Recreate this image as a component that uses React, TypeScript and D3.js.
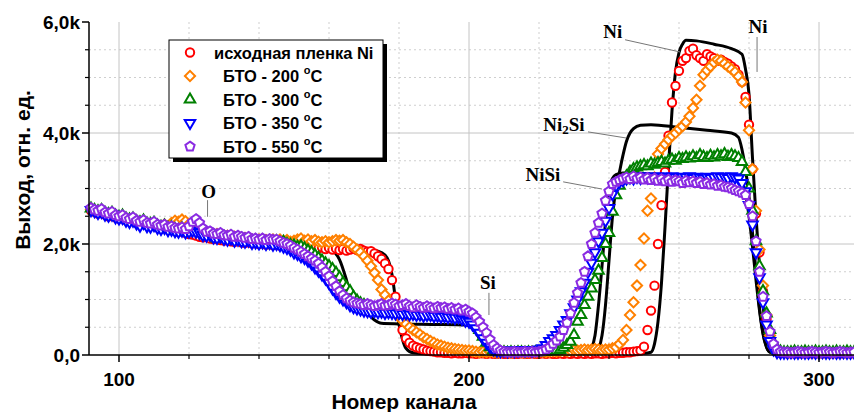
import React from "react";
import * as d3 from "d3";

// one point per channel, starting at this channel
const firstChannel = 92;

// measured yield, thousands of counts
const initialFilm = [
  2.60, 2.58, 2.55, 2.58, 2.53, 2.50, 2.52, 2.48, 2.46, 2.48,
  2.43, 2.41, 2.43, 2.38, 2.36, 2.39, 2.34, 2.33, 2.35, 2.30,
  2.28, 2.30, 2.26, 2.27, 2.24, 2.22, 2.24, 2.20, 2.18, 2.17,
  2.15, 2.13, 2.12, 2.14, 2.10, 2.09, 2.11, 2.07, 2.06, 2.08,
  2.05, 2.04, 2.06, 2.03, 2.02, 2.04, 2.01, 2.02, 2.00, 2.02,
  1.99, 2.00, 1.98, 2.00, 1.97, 1.98, 1.96, 1.98, 1.95, 1.96,
  1.97, 1.94, 1.95, 1.93, 1.95, 1.92, 1.94, 1.91, 1.93, 1.90,
  1.92, 1.89, 1.91, 1.88, 1.90, 1.92, 1.89, 1.91, 1.88, 1.86,
  1.87, 1.83, 1.78, 1.73, 1.65, 1.55, 1.35, 1.05, 0.70, 0.45,
  0.30, 0.22, 0.17, 0.14, 0.12, 0.10, 0.08, 0.07, 0.06, 0.05,
  0.05, 0.04, 0.04, 0.03, 0.04, 0.03, 0.03, 0.04, 0.03, 0.03,
  0.02, 0.03, 0.03, 0.02, 0.03, 0.02, 0.02, 0.03, 0.02, 0.02,
  0.03, 0.02, 0.02, 0.03, 0.02, 0.02, 0.03, 0.02, 0.02, 0.03,
  0.02, 0.03, 0.02, 0.02, 0.03, 0.02, 0.03, 0.02, 0.03, 0.02,
  0.03, 0.02, 0.03, 0.02, 0.03, 0.03, 0.02, 0.03, 0.03, 0.04,
  0.03, 0.04, 0.04, 0.05, 0.05, 0.06, 0.07, 0.08, 0.15, 0.45,
  0.80, 1.25, 2.00, 2.70, 3.30, 3.95, 4.55, 4.85, 5.12, 5.30,
  5.35, 5.48, 5.52, 5.40, 5.35, 5.30, 5.42, 5.38, 5.35, 5.30,
  5.32, 5.28, 5.25, 5.20, 5.15, 5.05, 4.92, 4.65, 4.15, 3.35,
  2.55, 1.85, 1.15, 0.65, 0.32, 0.14, 0.06, 0.04, 0.04, 0.03,
  0.03, 0.03, 0.03, 0.03, 0.03, 0.03, 0.03, 0.03, 0.03, 0.03,
  0.03, 0.03, 0.03, 0.03, 0.03, 0.03, 0.03, 0.03, 0.03,
];

const rta200 = [
  2.62, 2.60, 2.57, 2.59, 2.55, 2.52, 2.54, 2.50, 2.47, 2.49,
  2.45, 2.43, 2.45, 2.40, 2.38, 2.42, 2.37, 2.36, 2.38, 2.34,
  2.32, 2.35, 2.31, 2.38, 2.42, 2.40, 2.44, 2.41, 2.36, 2.30,
  2.26, 2.22, 2.19, 2.21, 2.17, 2.16, 2.18, 2.14, 2.13, 2.15,
  2.11, 2.13, 2.11, 2.09, 2.11, 2.07, 2.08, 2.06, 2.08, 2.05,
  2.07, 2.05, 2.08, 2.06, 2.08, 2.05, 2.07, 2.04, 2.06, 2.08,
  2.10, 2.06, 2.08, 2.05, 2.07, 2.04, 2.03, 2.05, 2.03, 2.05,
  2.07, 2.06, 2.07, 2.03, 2.00, 1.95, 1.90, 1.85, 1.78, 1.70,
  1.60, 1.48, 1.35, 1.18, 1.08, 0.98, 0.88, 0.80, 0.70, 0.62,
  0.56, 0.50, 0.45, 0.41, 0.37, 0.32, 0.29, 0.25, 0.22, 0.19,
  0.17, 0.15, 0.13, 0.12, 0.11, 0.10, 0.09, 0.08, 0.08, 0.07,
  0.06, 0.05, 0.06, 0.05, 0.06, 0.05, 0.04, 0.05, 0.06, 0.05,
  0.04, 0.05, 0.06, 0.05, 0.04, 0.05, 0.06, 0.05, 0.05, 0.06,
  0.05, 0.06, 0.07, 0.06, 0.07, 0.08, 0.07, 0.08, 0.09, 0.08,
  0.09, 0.10, 0.09, 0.10, 0.11, 0.10, 0.09, 0.10, 0.10, 0.12,
  0.14, 0.20, 0.27, 0.45, 0.72, 0.95, 1.25, 1.62, 2.10, 2.60,
  2.82, 3.20, 3.62, 3.72, 3.80, 3.88, 3.95, 4.00, 4.07, 4.12,
  4.20, 4.30, 4.45, 4.60, 4.85, 5.05, 5.13, 5.20, 5.27, 5.32,
  5.30, 5.25, 5.20, 5.15, 5.10, 5.02, 4.92, 4.55, 4.05, 3.35,
  2.60, 1.90, 1.25, 0.72, 0.35, 0.15, 0.07, 0.05, 0.04, 0.04,
  0.04, 0.05, 0.04, 0.04, 0.05, 0.04, 0.04, 0.05, 0.04, 0.04,
  0.05, 0.04, 0.04, 0.05, 0.04, 0.04, 0.05, 0.04, 0.04,
];

const rta300 = [
  2.64, 2.61, 2.59, 2.61, 2.56, 2.54, 2.56, 2.51, 2.49, 2.51,
  2.46, 2.44, 2.46, 2.41, 2.39, 2.42, 2.37, 2.36, 2.38, 2.33,
  2.31, 2.33, 2.29, 2.30, 2.27, 2.25, 2.28, 2.24, 2.25, 2.26,
  2.25, 2.22, 2.19, 2.20, 2.16, 2.14, 2.10, 2.12, 2.13, 2.11,
  2.13, 2.09, 2.11, 2.09, 2.07, 2.09, 2.05, 2.06, 2.04, 2.06,
  2.03, 2.05, 2.04, 2.05, 2.02, 2.04, 2.00, 1.98, 1.97, 1.95,
  1.96, 1.92, 1.88, 1.85, 1.80, 1.75, 1.70, 1.65, 1.60, 1.55,
  1.48, 1.40, 1.30, 1.22, 1.15, 1.05, 0.98, 0.93, 0.90, 0.86,
  0.84, 0.82, 0.80, 0.79, 0.78, 0.76, 0.77, 0.75, 0.74, 0.75,
  0.73, 0.74, 0.72, 0.73, 0.71, 0.72, 0.70, 0.71, 0.70, 0.69,
  0.70, 0.68, 0.69, 0.67, 0.68, 0.66, 0.67, 0.65, 0.64, 0.61,
  0.55, 0.45, 0.33, 0.22, 0.14, 0.09, 0.06, 0.05, 0.05, 0.04,
  0.05, 0.04, 0.05, 0.05, 0.04, 0.05, 0.04, 0.05, 0.05, 0.06,
  0.06, 0.07, 0.07, 0.08, 0.09, 0.13, 0.18, 0.24, 0.36, 0.60,
  0.72, 0.90, 1.05, 1.20, 1.35, 1.52, 1.75, 2.00, 2.20, 2.58,
  2.88, 3.05, 3.15, 3.22, 3.30, 3.35, 3.38, 3.40, 3.42, 3.40,
  3.45, 3.43, 3.46, 3.48, 3.45, 3.50, 3.52, 3.50, 3.55, 3.53,
  3.56, 3.54, 3.58, 3.55, 3.60, 3.57, 3.55, 3.59, 3.56, 3.60,
  3.58, 3.62, 3.57, 3.60, 3.58, 3.55, 3.48, 3.30, 3.00, 2.60,
  2.05, 1.60, 1.15, 0.75, 0.45, 0.22, 0.10, 0.06, 0.05, 0.05,
  0.05, 0.06, 0.05, 0.05, 0.06, 0.05, 0.05, 0.06, 0.05, 0.05,
  0.06, 0.05, 0.05, 0.06, 0.05, 0.05, 0.06, 0.05, 0.05,
];

const rta350 = [
  2.61, 2.59, 2.56, 2.58, 2.53, 2.51, 2.53, 2.48, 2.46, 2.47,
  2.42, 2.40, 2.42, 2.37, 2.33, 2.38, 2.32, 2.31, 2.34, 2.29,
  2.27, 2.29, 2.25, 2.26, 2.23, 2.22, 2.24, 2.21, 2.22, 2.24,
  2.22, 2.20, 2.16, 2.15, 2.17, 2.12, 2.11, 2.13, 2.09, 2.08,
  2.10, 2.06, 2.08, 2.05, 2.04, 2.06, 2.02, 2.03, 2.01, 2.03,
  2.00, 2.02, 1.99, 2.00, 1.98, 1.95, 1.93, 1.90, 1.85, 1.82,
  1.78, 1.75, 1.70, 1.65, 1.58, 1.52, 1.45, 1.38, 1.30, 1.20,
  1.12, 1.05, 1.00, 0.95, 0.90, 0.86, 0.84, 0.82, 0.80, 0.79,
  0.78, 0.79, 0.77, 0.78, 0.76, 0.77, 0.76, 0.75, 0.76, 0.74,
  0.75, 0.73, 0.74, 0.72, 0.73, 0.71, 0.72, 0.72, 0.70, 0.71,
  0.69, 0.70, 0.68, 0.69, 0.67, 0.68, 0.65, 0.62, 0.60, 0.55,
  0.48, 0.40, 0.30, 0.22, 0.15, 0.10, 0.08, 0.07, 0.08, 0.07,
  0.08, 0.07, 0.08, 0.09, 0.08, 0.09, 0.08, 0.09, 0.10, 0.12,
  0.18, 0.25, 0.30, 0.36, 0.45, 0.55, 0.63, 0.75, 0.86, 1.00,
  1.15, 1.30, 1.50, 1.66, 1.85, 2.05, 2.20, 2.42, 2.65, 2.90,
  3.05, 3.12, 3.15, 3.18, 3.20, 3.18, 3.21, 3.19, 3.22, 3.20,
  3.21, 3.19, 3.22, 3.20, 3.21, 3.18, 3.22, 3.20, 3.19, 3.21,
  3.20, 3.22, 3.19, 3.21, 3.20, 3.18, 3.21, 3.19, 3.20, 3.22,
  3.20, 3.21, 3.19, 3.22, 3.20, 3.18, 3.10, 2.95, 2.70, 2.35,
  1.85, 1.40, 0.95, 0.55, 0.25, 0.10, 0.05, 0.04, 0.04, 0.04,
  0.05, 0.04, 0.04, 0.05, 0.04, 0.04, 0.05, 0.04, 0.04, 0.05,
  0.04, 0.04, 0.05, 0.04, 0.04, 0.05, 0.04, 0.04, 0.05,
];

const rta550 = [
  2.65, 2.62, 2.60, 2.63, 2.57, 2.55, 2.58, 2.52, 2.50, 2.52,
  2.47, 2.45, 2.48, 2.42, 2.40, 2.43, 2.38, 2.37, 2.40, 2.35,
  2.33, 2.35, 2.31, 2.32, 2.29, 2.28, 2.30, 2.27, 2.32, 2.40,
  2.45, 2.38, 2.28, 2.22, 2.23, 2.19, 2.18, 2.20, 2.16, 2.15,
  2.17, 2.13, 2.15, 2.13, 2.11, 2.13, 2.09, 2.10, 2.08, 2.10,
  2.07, 2.09, 2.08, 2.08, 2.05, 2.02, 2.00, 1.97, 1.93, 1.90,
  1.86, 1.82, 1.78, 1.74, 1.70, 1.65, 1.58, 1.50, 1.42, 1.33,
  1.24, 1.15, 1.08, 1.02, 0.98, 0.95, 0.93, 0.92, 0.90, 0.92,
  0.90, 0.88, 0.90, 0.92, 0.89, 0.90, 0.93, 0.91, 0.88, 0.90,
  0.92, 0.88, 0.86, 0.90, 0.87, 0.85, 0.88, 0.86, 0.84, 0.87,
  0.85, 0.86, 0.83, 0.85, 0.82, 0.84, 0.80, 0.82, 0.78, 0.75,
  0.68, 0.60, 0.50, 0.40, 0.28, 0.18, 0.12, 0.08, 0.06, 0.05,
  0.05, 0.06, 0.05, 0.05, 0.06, 0.05, 0.06, 0.05, 0.06, 0.07,
  0.10, 0.14, 0.20, 0.26, 0.33, 0.45, 0.58, 0.75, 0.94, 1.12,
  1.30, 1.50, 1.78, 2.00, 2.20, 2.38, 2.55, 2.78, 2.95, 3.08,
  3.12, 3.15, 3.18, 3.20, 3.17, 3.22, 3.18, 3.20, 3.16, 3.19,
  3.15, 3.18, 3.14, 3.17, 3.13, 3.16, 3.12, 3.15, 3.13, 3.10,
  3.14, 3.11, 3.13, 3.10, 3.12, 3.08, 3.10, 3.07, 3.08, 3.05,
  3.06, 3.03, 3.02, 3.00, 2.97, 2.95, 2.92, 2.88, 2.72, 2.50,
  2.05, 1.50, 1.05, 0.70, 0.42, 0.20, 0.10, 0.06, 0.05, 0.05,
  0.04, 0.05, 0.06, 0.05, 0.04, 0.05, 0.06, 0.05, 0.04, 0.05,
  0.06, 0.05, 0.04, 0.05, 0.06, 0.05, 0.04, 0.05, 0.05,
];

// simulated spectra (black lines)
const simNiChannels = [145, 160, 170, 174, 176, 177, 178, 179, 180, 181, 182, 184, 188, 200, 240, 250, 252, 253, 254, 255, 256, 257, 258, 259, 260, 261, 262, 265, 270, 275, 278, 279, 280, 281, 282, 283, 284, 285, 286, 287, 289, 310];
const simNi = [2.02, 1.94, 1.90, 1.87, 1.80, 1.70, 1.45, 1.00, 0.55, 0.28, 0.12, 0.04, 0.02, 0.02, 0.02, 0.03, 0.05, 0.20, 0.60, 1.30, 2.30, 3.40, 4.40, 5.10, 5.45, 5.60, 5.67, 5.66, 5.60, 5.52, 5.42, 5.15, 4.70, 3.55, 2.50, 1.60, 0.90, 0.40, 0.15, 0.05, 0.01, 0.00];

const simNi2SiChannels = [145, 155, 158, 161, 163, 165, 166, 167, 169, 171, 173, 175, 180, 190, 199, 201, 203, 205, 207, 209, 236, 237, 238, 239, 240, 241, 242, 243, 244, 245, 246, 247, 249, 252, 260, 268, 275, 277, 278, 279, 280, 281, 282, 283, 284, 285, 286, 288, 310];
const simNi2Si = [2.04, 1.97, 1.95, 1.88, 1.72, 1.35, 1.13, 0.98, 0.87, 0.75, 0.63, 0.57, 0.56, 0.55, 0.54, 0.48, 0.30, 0.14, 0.05, 0.02, 0.02, 0.10, 0.35, 0.90, 1.70, 2.50, 3.00, 3.30, 3.60, 3.85, 4.00, 4.08, 4.14, 4.15, 4.10, 4.05, 4.00, 3.92, 3.70, 3.35, 2.85, 2.20, 1.50, 0.85, 0.40, 0.15, 0.05, 0.02, 0.00];

const simNiSiChannels = [145, 155, 158, 160, 162, 164, 166, 170, 180, 190, 199, 201, 203, 205, 207, 209, 211, 233, 234, 235, 236, 237, 238, 239, 240, 241, 242, 244, 255, 265, 275, 278, 279, 280, 281, 282, 283, 284, 285, 286, 288, 310];
const simNiSi = [2.02, 1.90, 1.75, 1.50, 1.20, 1.00, 0.92, 0.88, 0.87, 0.85, 0.82, 0.75, 0.55, 0.30, 0.12, 0.04, 0.02, 0.02, 0.05, 0.12, 0.35, 0.90, 1.60, 2.40, 3.00, 3.18, 3.25, 3.28, 3.25, 3.22, 3.20, 3.12, 2.90, 2.50, 1.95, 1.35, 0.80, 0.38, 0.14, 0.05, 0.02, 0.00];

const seriesLabels = ["исходная пленка Ni", "БТО - 200 ", "БТО - 300 ", "БТО - 350 ", "БТО - 550 "];
const xMajorTicks = [100, 200, 300];
const xMinorTicks = [120, 140, 160, 180, 220, 240, 260, 280];
const yMajorTicks = [0, 2, 4, 6];
const yMinorTicks = [0.5, 1, 1.5, 2.5, 3, 3.5, 4.5, 5, 5.5];

const symbolPentagon = {
  draw(context: any, size: number) {
    const r = Math.sqrt(size / 2.3776);
    for (let k = 0; k < 5; k++) {
      const a = -Math.PI / 2 + (k * 2 * Math.PI) / 5;
      if (k === 0) context.moveTo(r * Math.cos(a), r * Math.sin(a));
      else context.lineTo(r * Math.cos(a), r * Math.sin(a));
    }
    context.closePath();
  },
};

const series = [
  { label: seriesLabels[0], values: initialFilm, color: "#ff0000", path: d3.symbol(d3.symbolCircle, 55)(), rotate: 0 },
  { label: seriesLabels[1], values: rta200, color: "#ff8000", path: d3.symbol(d3.symbolSquare, 52)(), rotate: 45 },
  { label: seriesLabels[2], values: rta300, color: "#008000", path: d3.symbol(d3.symbolTriangle, 48)(), rotate: 0 },
  { label: seriesLabels[3], values: rta350, color: "#0000ff", path: d3.symbol(d3.symbolTriangle, 48)(), rotate: 180 },
  { label: seriesLabels[4], values: rta550, color: "#8a2be2", path: d3.symbol(symbolPentagon as any, 56)(), rotate: 0 },
];

const sims = [
  { ch: simNiChannels, v: simNi },
  { ch: simNi2SiChannels, v: simNi2Si },
  { ch: simNiSiChannels, v: simNiSi },
];

export default function App() {
  const left = 89, right = 854, top = 22, bottom = 355;
  const x = d3.scaleLinear().domain([100, 300]).range([119, 819]);
  const y = d3.scaleLinear().domain([0, 6]).range([bottom, top]);

  const line = d3
    .line<[number, number]>()
    .x((d) => x(d[0]))
    .y((d) => y(d[1]))
    .curve(d3.curveMonotoneX);

  const tickFont = { fontFamily: "'Liberation Sans', Arial, sans-serif", fontWeight: 700 };
  const noteFont = { fontFamily: "'Liberation Serif', 'Times New Roman', serif", fontWeight: 700, fontSize: 19 };
  const yLabel = (v: number) => (v === 0 ? "0,0" : v.toFixed(1).replace(".", ",") + "k");

  const notes = [
    { text: "O", at: [125.6, 2.95], from: [125.3, 2.79], to: [125.3, 2.49] },
    { text: "Si", at: [205.4, 1.3], from: [205.7, 1.12], to: [205.7, 0.72] },
    { text: "Ni", at: [241.1, 5.82], from: [244.6, 5.68], to: [260.3, 5.46] },
    { text: "Ni", at: [282.6, 5.91], from: [282.3, 5.73], to: [282.3, 5.1] },
    { text: "Ni2Si", at: [227.1, 4.16], from: [234, 4.02], to: [244.9, 3.91] },
    { text: "NiSi", at: [221.1, 3.26], from: [226.9, 3.12], to: [238, 2.99] },
  ];

  return (
    <svg width={854} height={412} style={{ position: "absolute", left: 0, top: 0, background: "#fff" }}>
      {/* grid */}
      {yMinorTicks.map((t) => (
        <line key={"gy" + t} x1={left} x2={right} y1={y(t)} y2={y(t)} stroke="#cfcfcf" strokeDasharray="2,3" />
      ))}
      {xMinorTicks.map((t) => (
        <line key={"gx" + t} x1={x(t)} x2={x(t)} y1={top} y2={bottom} stroke="#cfcfcf" strokeDasharray="2,3" />
      ))}
      {yMajorTicks.filter((t) => t > 0 && t < 6).map((t) => (
        <line key={"Gy" + t} x1={left} x2={right} y1={y(t)} y2={y(t)} stroke="#c4c4c4" />
      ))}
      {xMajorTicks.map((t) => (
        <line key={"Gx" + t} x1={x(t)} x2={x(t)} y1={top} y2={bottom} stroke="#c4c4c4" />
      ))}

      {/* simulations */}
      {sims.map((s, i) => (
        <path key={"sim" + i} d={line(s.ch.map((c, j) => [c, s.v[j]]) as [number, number][]) || ""} fill="none" stroke="#000" strokeWidth={3} />
      ))}

      {/* measured points */}
      {series.map((s, si) => (
        <g key={"s" + si}>
          {s.values.map((v, i) => (
            <path
              key={i}
              d={s.path || ""}
              transform={`translate(${x(firstChannel + i)},${y(v)}) rotate(${s.rotate})`}
              fill="#fff"
              stroke={s.color}
              strokeWidth={2}
            />
          ))}
        </g>
      ))}

      {/* axes */}
      <line x1={left} x2={left} y1={top} y2={bottom} stroke="#000" strokeWidth={1.5} />
      <line x1={left} x2={right} y1={bottom} y2={bottom} stroke="#000" strokeWidth={1.5} />
      {yMajorTicks.map((t) => (
        <g key={"yt" + t}>
          <line x1={left - 7} x2={left} y1={y(t)} y2={y(t)} stroke="#000" strokeWidth={1.5} />
          <text x={left - 9} y={y(t)} textAnchor="end" dominantBaseline="central" fontSize={19} {...tickFont}>
            {yLabel(t)}
          </text>
        </g>
      ))}
      {yMinorTicks.map((t) => (
        <line key={"ymt" + t} x1={left - 4} x2={left} y1={y(t)} y2={y(t)} stroke="#000" strokeWidth={1.2} />
      ))}
      {xMajorTicks.map((t) => (
        <g key={"xt" + t}>
          <line x1={x(t)} x2={x(t)} y1={bottom} y2={bottom + 7} stroke="#000" strokeWidth={1.5} />
          <text x={x(t)} y={bottom + 24} textAnchor="middle" dominantBaseline="central" fontSize={19} {...tickFont}>
            {t}
          </text>
        </g>
      ))}
      {xMinorTicks.map((t) => (
        <line key={"xmt" + t} x1={x(t)} x2={x(t)} y1={bottom} y2={bottom + 4} stroke="#000" strokeWidth={1.2} />
      ))}
      <text x={404} y={401} textAnchor="middle" dominantBaseline="central" fontSize={21} {...tickFont}>
        Номер канала
      </text>
      <text
        transform="translate(22,170) rotate(-90)"
        textAnchor="middle"
        dominantBaseline="central"
        fontSize={21}
        {...tickFont}
      >
        Выход, отн. ед.
      </text>

      {/* annotations */}
      {notes.map((n, i) => (
        <g key={"n" + i}>
          <line x1={x(n.from[0])} y1={y(n.from[1])} x2={x(n.to[0])} y2={y(n.to[1])} stroke="#777" strokeWidth={1} />
          <text x={x(n.at[0])} y={y(n.at[1])} textAnchor="middle" dominantBaseline="central" {...noteFont}>
            {n.text === "Ni2Si" ? (
              <>
                Ni<tspan fontSize={13} dy={5}>2</tspan>
                <tspan dy={-5}>Si</tspan>
              </>
            ) : (
              n.text
            )}
          </text>
        </g>
      ))}

      {/* legend */}
      <rect x={173} y={44} width={214} height={118} fill="#000" />
      <rect x={169} y={40} width={214} height={118} fill="#fff" stroke="#000" strokeWidth={1} />
      {series.map((s, i) => {
        const ry = 52.5 + i * 23.5;
        return (
          <g key={"lg" + i}>
            <path d={s.path || ""} transform={`translate(190,${ry}) rotate(${s.rotate})`} fill="#fff" stroke={s.color} strokeWidth={2} />
            <text x={i === 0 ? 214 : 223} y={ry} dominantBaseline="central" fontSize={16.5} {...tickFont}>
              {s.label}
              {i > 0 && (
                <>
                  <tspan fontSize={11} dy={-6}>o</tspan>
                  <tspan dy={6}>C</tspan>
                </>
              )}
            </text>
          </g>
        );
      })}
    </svg>
  );
}
